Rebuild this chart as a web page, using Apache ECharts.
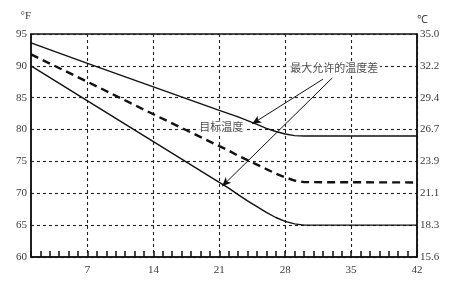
<!DOCTYPE html>
<html><head><meta charset="utf-8">
<script src="https://cdn.jsdelivr.net/npm/echarts@6/dist/echarts.min.js"></script>
<style>html,body{margin:0;padding:0;background:#fff}#c{width:450px;height:281px}</style>
</head><body><div id="c"></div>
<script>
// days (x) shared by the three curves
const days = [1, 7, 14, 21, 22, 23, 24, 25, 26, 27, 28, 29, 30, 42];
// upper limit (°F), target (dashed), lower limit
const upperF  = [93.6, 90.4, 86.7, 83.0, 82.5, 82.0, 81.4, 80.8, 80.2, 79.7, 79.3, 79.05, 79.0, 79.0];
const targetF = [91.8, 87.5, 82.4, 77.4, 76.7, 75.9, 75.2, 74.5, 73.8, 73.1, 72.5, 72.0, 71.75, 71.7];
const lowerF  = [90.0, 84.5, 78.1, 71.7, 70.8, 69.8, 68.8, 67.9, 67.0, 66.2, 65.6, 65.2, 65.0, 65.0];
// tick labels
const xLabelDays = [7, 14, 21, 28, 35, 42];
const fTicks = [60, 65, 70, 75, 80, 85, 90, 95];
const cLabels = ['15.6', '18.3', '21.1', '23.9', '26.7', '29.4', '32.2', '35.0'];
// annotations
const noteTexts = ['最大允许的温度差', '目标温度'];
const notePos = [[33.2, 89.7], [21.2, 80.4]];
const arrowFrom = [[32.0, 87.9], [33.0, 88.1]];
const arrowTo = [[24.5, 80.9], [21.3, 71.1]];

const pairs = v => days.map((d, i) => [d, v[i]]);
const serif = 'Liberation Serif';
const lblColor = '#3a3a3a';
const gridLine = {show: true, lineStyle: {type: [3, 3], color: '#222', width: 1.1}};

const chart = echarts.init(document.getElementById('c'), null, {renderer: 'canvas'});
chart.setOption({
  animation: false,
  backgroundColor: '#fff',
  grid: {left: 31, right: 33, top: 34, bottom: 24, show: true, borderColor: '#111', borderWidth: 1.5},
  xAxis: [{
    type: 'value', min: 1, max: 42,
    axisLine: {show: true, lineStyle: {color: '#111', width: 1.5}},
    axisTick: {show: false, customValues: xLabelDays},
    axisLabel: {customValues: xLabelDays, color: lblColor, fontFamily: serif, fontSize: 11, margin: 8},
    splitLine: gridLine
  }, {
    type: 'value', min: 1, max: 42, interval: 1, position: 'bottom',
    axisLine: {show: false}, axisLabel: {show: false}, splitLine: {show: false},
    axisTick: {show: true, inside: true, length: 6, lineStyle: {color: '#111', width: 1.5}}
  }],
  yAxis: [{
    type: 'value', min: 60, max: 95, interval: 5,
    name: '°F', nameLocation: 'end', nameGap: 12,
    nameTextStyle: {align: 'right', color: lblColor, fontFamily: serif, fontSize: 11},
    axisLine: {show: true, lineStyle: {color: '#111', width: 1.5}},
    axisTick: {show: false},
    axisLabel: {color: lblColor, fontFamily: serif, fontSize: 11, margin: 4},
    splitLine: gridLine
  }, {
    type: 'value', min: 60, max: 95, interval: 5, position: 'right',
    name: '℃', nameLocation: 'end', nameGap: 8,
    nameTextStyle: {align: 'left', color: lblColor, fontFamily: serif, fontSize: 11},
    axisLine: {show: true, lineStyle: {color: '#111', width: 1.5}},
    axisTick: {show: false},
    axisLabel: {color: lblColor, fontFamily: serif, fontSize: 11, margin: 3,
      formatter: v => cLabels[fTicks.indexOf(v)]},
    splitLine: {show: false}
  }],
  series: [{
    type: 'line', data: pairs(upperF), showSymbol: false, smooth: false,
    lineStyle: {color: '#111', width: 1.4},
    markLine: {
      silent: true, symbol: ['none', 'arrow'], symbolSize: [6, 9],
      label: {show: false},
      lineStyle: {color: '#111', width: 1, type: 'solid'},
      data: arrowFrom.map((f, i) => [{coord: f}, {coord: arrowTo[i]}])
    }
  }, {
    type: 'line', data: pairs(targetF), showSymbol: false, smooth: false,
    lineStyle: {color: '#111', width: 2.4, type: [8, 5]}
  }, {
    type: 'line', data: pairs(lowerF), showSymbol: false, smooth: false,
    lineStyle: {color: '#111', width: 1.4}
  }, {
    type: 'scatter', symbolSize: 0, silent: true, z: 10,
    data: notePos.map((p, i) => ({value: p, name: noteTexts[i]})),
    label: {show: true, position: 'inside', formatter: p => p.name,
      fontFamily: 'Noto Sans CJK SC', fontSize: 11, color: '#222',
      backgroundColor: '#fff', padding: [1, 2]}
  }]
});
</script>
</body></html>
